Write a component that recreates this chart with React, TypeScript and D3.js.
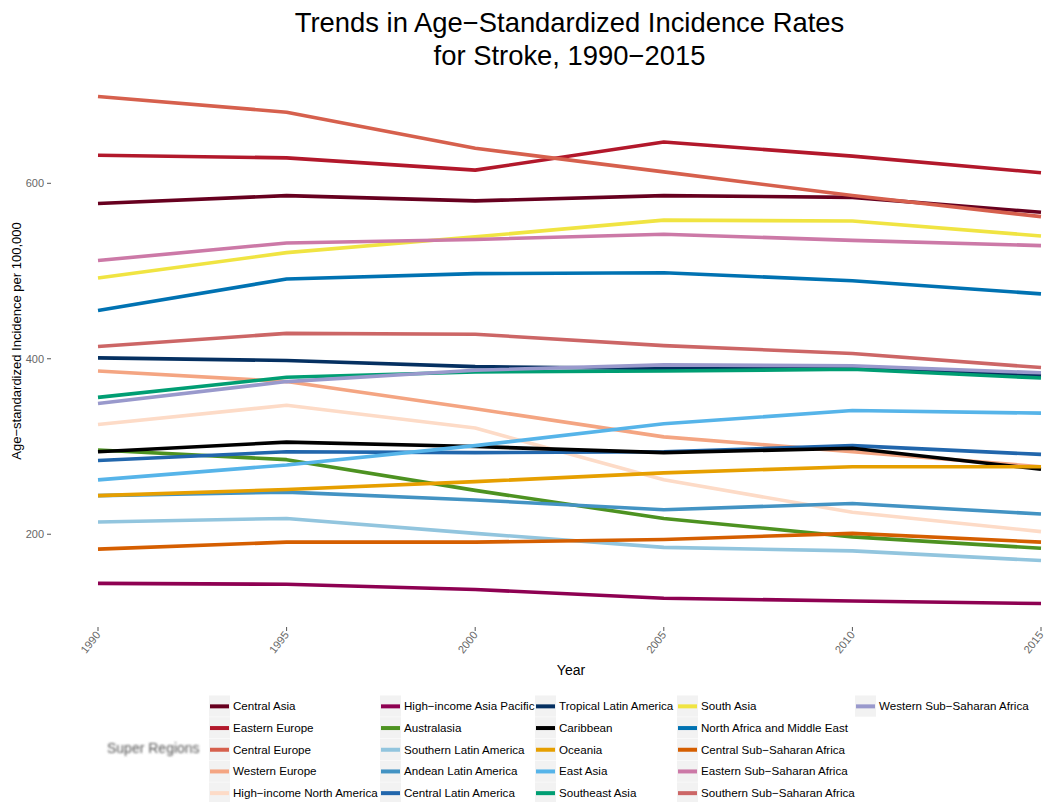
import React from "react";
import * as d3 from "d3";

const years = [1990, 1995, 2000, 2005, 2010, 2015];
const yTicks = [200, 400, 600];

const regions = [
  "Central Asia", "Eastern Europe", "Central Europe", "Western Europe", "High\u2212income North America",
  "High\u2212income Asia Pacific", "Australasia", "Southern Latin America", "Andean Latin America", "Central Latin America",
  "Tropical Latin America", "Caribbean", "Oceania", "East Asia", "Southeast Asia",
  "South Asia", "North Africa and Middle East", "Central Sub\u2212Saharan Africa", "Eastern Sub\u2212Saharan Africa", "Southern Sub\u2212Saharan Africa",
  "Western Sub\u2212Saharan Africa",
];

const colors = [
  "#67001F", "#B2182B", "#D6604D", "#F4A582", "#FDDBC7",
  "#8E0152", "#4D9221", "#92C5DE", "#4393C3", "#2166AC",
  "#053061", "#000000", "#E69F00", "#56B4E9", "#009E73",
  "#F0E442", "#0072B2", "#D55E00", "#CC79A7", "#CC6666",
  "#9999CC",
];

const centralAsia = [577, 586, 580, 586, 584, 567];
const easternEurope = [632, 629, 615, 647, 631, 612];
const centralEurope = [699, 681, 640, 613, 586, 562];
const westernEurope = [386, 374, 343, 311, 294, 277];
const hiNorthAmerica = [325, 347, 321, 262, 225, 203];
const hiAsiaPacific = [144, 143, 137, 127, 124, 121];
const australasia = [296, 285, 250, 218, 197, 184];
const southernLatAm = [214, 218, 201, 185, 181, 170];
const andeanLatAm = [244, 248, 239, 228, 235, 223];
const centralLatAm = [284, 294, 293, 294, 301, 291];
const tropicalLatAm = [401, 398, 391, 389, 390, 381];
const caribbean = [294, 305, 300, 293, 298, 274];
const oceania = [244, 251, 260, 270, 277, 277];
const eastAsia = [262, 279, 301, 326, 341, 338];
const southeastAsia = [356, 379, 385, 386, 388, 378];
const southAsia = [492, 521, 539, 558, 557, 540];
const northAfricaME = [455, 491, 497, 498, 489, 474];
const centralSSA = [183, 191, 191, 194, 201, 191];
const easternSSA = [512, 532, 536, 542, 535, 529];
const southernSSA = [414, 429, 428, 415, 406, 390];
const westernSSA = [349, 374, 387, 393, 392, 384];

const seriesValues = [
  centralAsia, easternEurope, centralEurope, westernEurope, hiNorthAmerica,
  hiAsiaPacific, australasia, southernLatAm, andeanLatAm, centralLatAm,
  tropicalLatAm, caribbean, oceania, eastAsia, southeastAsia,
  southAsia, northAfricaME, centralSSA, easternSSA, southernSSA,
  westernSSA,
];

const FONT = "'Liberation Sans', Arial, Helvetica, sans-serif";

export default function App() {
  const W = 1049;
  const H = 802;
  const x = d3.scaleLinear().domain([1990, 2015]).range([98, 1041]);
  const y = d3.scaleLinear().domain([92, 728]).range([629, 71]);
  const line = d3
    .line<number>()
    .x((_, i) => x(years[i]))
    .y((d) => y(d));

  const legendCols = [209, 380, 535, 677, 855];
  const legendRow0 = 695.5;
  const rowH = 21.7;
  const titleX = (x.range()[0] + x.range()[1]) / 2;

  return (
    <svg width={W} height={H} style={{ position: "absolute", left: 0, top: 0, background: "#fff" }} fontFamily={FONT}>
      <defs>
        <filter id="blur" x="-10%" y="-30%" width="120%" height="160%">
          <feGaussianBlur stdDeviation="0.9" />
        </filter>
      </defs>
      <rect width={W} height={H} fill="#fff" />
      {/* Title */}
      <text x={titleX} y={32} textAnchor="middle" fontSize={27.4} fill="#000">
        Trends in Age{"\u2212"}Standardized Incidence Rates
      </text>
      <text x={titleX} y={65} textAnchor="middle" fontSize={27.4} fill="#000">
        for Stroke, 1990{"\u2212"}2015
      </text>

      {/* Y axis */}
      {yTicks.map((t) => (
        <g key={t}>
          <text x={44} y={y(t) + 4} textAnchor="end" fontSize={11} fill="#666">
            {t}
          </text>
          <line x1={47} x2={51} y1={y(t)} y2={y(t)} stroke="#555" strokeWidth={1} />
        </g>
      ))}
      <text
        transform={`translate(21,${341}) rotate(-90)`}
        textAnchor="middle"
        fontSize={13}
        fill="#000"
      >
        Age{"\u2212"}standardized Incidence per 100,000
      </text>

      {/* X axis */}
      {years.map((t) => (
        <g key={t}>
          <line x1={x(t)} x2={x(t)} y1={627} y2={631} stroke="#555" strokeWidth={1} />
          <text
            transform={`translate(${x(t) + 3},${635}) rotate(-52)`}
            textAnchor="end"
            fontSize={11}
            fill="#666"
          >
            {t}
          </text>
        </g>
      ))}
      <text x={571} y={675} textAnchor="middle" fontSize={14} fill="#000">
        Year
      </text>

      {/* Lines */}
      {seriesValues.map((vals, i) => (
        <path
          key={regions[i]}
          d={line(vals) || ""}
          fill="none"
          stroke={colors[i]}
          strokeWidth={3.6}
          strokeLinejoin="round"
        />
      ))}

      {/* Legend */}
      <text x={107} y={753} fontSize={14} fill="#555" filter="url(#blur)">
        Super Regions
      </text>
      {regions.map((r, i) => {
        const col = Math.floor(i / 5);
        const row = i % 5;
        const lx = legendCols[col];
        const ly = legendRow0 + row * rowH;
        return (
          <g key={r}>
            <rect x={lx} y={ly} width={21} height={rowH - 0.5} fill="#f2f2f2" />
            <line x1={lx + 1} x2={lx + 20} y1={ly + rowH / 2} y2={ly + rowH / 2} stroke={colors[i]} strokeWidth={4} />
            <text x={lx + 24} y={ly + rowH / 2 + 4} fontSize={11.6} fill="#000">
              {r}
            </text>
          </g>
        );
      })}
    </svg>
  );
}
